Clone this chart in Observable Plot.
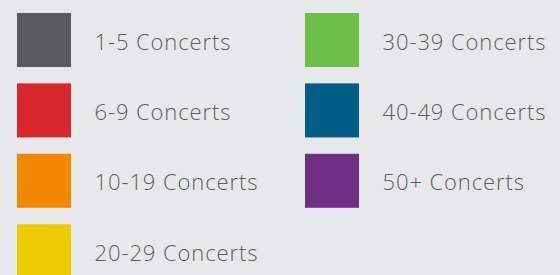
<!DOCTYPE html>
<html><head><meta charset="utf-8">
<script src="https://cdn.jsdelivr.net/npm/d3@7"></script>
<script src="https://cdn.jsdelivr.net/npm/@observablehq/plot@0.6"></script>
<style>
html,body{margin:0;padding:0;background:#e7e8ea;overflow:hidden}
</style></head><body>
<div id="chart"></div>
<script>
const categories = ["1-5 Concerts","6-9 Concerts","10-19 Concerts","20-29 Concerts","30-39 Concerts","40-49 Concerts","50+ Concerts"];
const colors = ["#58595b","#d9272e","#f28800","#eecb00","#6cc04a","#005b85","#722f87"];
const columns = [0,0,0,0,1,1,1];
const rows = [0,1,2,3,0,1,2];

const data = categories.map((c,i)=>({label:c, color:colors[i], col:columns[i], row:rows[i]}));
const sw = 54/288, sh = 54/70.4;

const chart = Plot.plot({
  width:560, height:275,
  margin:0,
  style:{background:"#e7e8ea", letterSpacing:"0.9px"},
  x:{type:"linear", domain:[0,2], range:[17,593], axis:null},
  y:{type:"linear", domain:[0,4], range:[13,13+4*70.4], axis:null},
  marks:[
    Plot.rect(data,{x1:"col", x2:d=>d.col+sw, y1:"row", y2:d=>d.row+sh, fill:d=>d.color}),
    Plot.text(data,{x:d=>d.col+77/288, y:d=>d.row+sh/2, text:"label", textAnchor:"start", dy:2,
      fontSize:22, fontFamily:"Open Sans", fontWeight:300, fill:"#5d5e60"})
  ]
});
document.getElementById("chart").append(chart);
</script>
</body></html>
